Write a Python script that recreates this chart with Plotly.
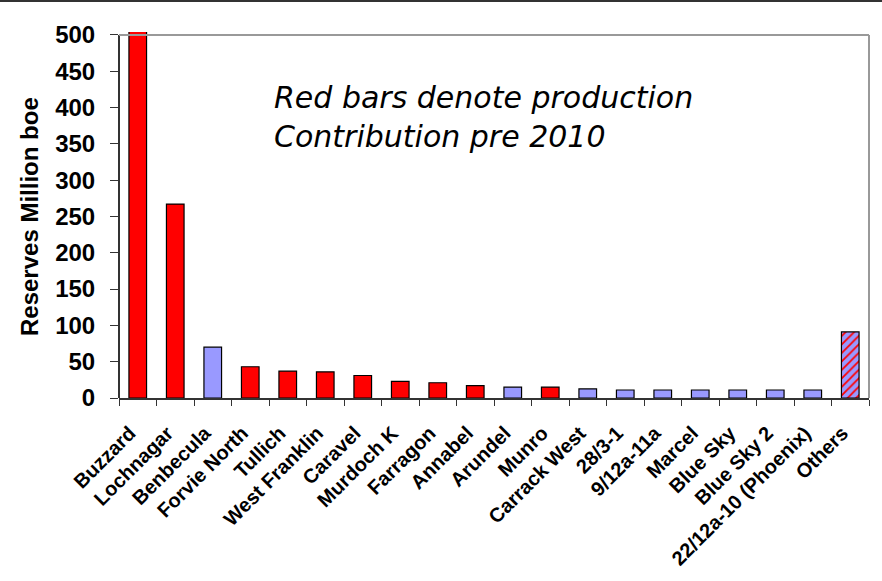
import plotly.graph_objects as go

fields = ["Buzzard", "Lochnagar", "Benbecula", "Forvie North", "Tullich", "West Franklin",
          "Caravel", "Murdoch K", "Farragon", "Annabel", "Arundel", "Munro", "Carrack West",
          "28/3-1", "9/12a-11a", "Marcel", "Blue Sky", "Blue Sky 2", "22/12a-10 (Phoenix)", "Others"]
reserves = [510, 267, 70, 43, 37, 36, 31, 23, 21, 17, 15, 15, 12.5, 11, 11, 11, 11, 11, 11, 91]
# 'prod' = production contribution pre 2010, 'new' = no pre-2010 production, 'mixed' = others
status = ["prod", "prod", "new", "prod", "prod", "prod", "prod", "prod", "prod", "prod",
          "new", "prod", "new", "new", "new", "new", "new", "new", "new", "mixed"]
y_ticks = [0, 50, 100, 150, 200, 250, 300, 350, 400, 450, 500]

RED = "#FF0000"
LAV = "#9999FF"

solid_x = [f for f, s in zip(fields, status) if s != "mixed"]
solid_y = [v for v, s in zip(reserves, status) if s != "mixed"]
solid_c = [RED if s == "prod" else LAV for s in status if s != "mixed"]
mixed_x = [f for f, s in zip(fields, status) if s == "mixed"]
mixed_y = [v for v, s in zip(reserves, status) if s == "mixed"]

fig = go.Figure()
fig.add_trace(go.Bar(
    x=solid_x, y=solid_y, width=0.47,
    marker=dict(color=solid_c, line=dict(color="black", width=1.2)),
))
fig.add_trace(go.Bar(
    x=mixed_x, y=mixed_y, width=0.47,
    marker=dict(color=LAV, line=dict(color="black", width=1.2),
                pattern=dict(shape="/", fgcolor=RED, bgcolor=LAV, size=6,
                             solidity=0.3, fillmode="replace")),
))

fig.update_layout(
    width=882, height=581,
    margin=dict(l=119, r=13, t=32, b=183),
    paper_bgcolor="white", plot_bgcolor="white",
    showlegend=False, barmode="overlay",
    font=dict(family="Liberation Sans, Arial", color="black"),
)
fig.update_xaxes(
    type="category", categoryorder="array", categoryarray=fields,
    tickvals=fields, ticktext=[f + "\u00a0\u00a0" for f in fields],
    showline=True, linecolor="#333", linewidth=1.5,
    ticks="outside", tickson="boundaries", ticklen=6, tickcolor="#333",
    tickangle=-45, tickfont=dict(size=20, family="Liberation Sans, Arial", weight="bold"),
    ticklabelstandoff=6, showgrid=False,
)
fig.update_yaxes(
    range=[0, 504], tickvals=y_ticks, ticks="outside", ticklen=8, tickcolor="#333",
    tickfont=dict(size=24, family="Liberation Sans, Arial", weight="bold"),
    ticklabelstandoff=10, showgrid=False, showline=False, zeroline=False,
)
# axis frame lines
fig.add_shape(type="line", xref="paper", yref="y", x0=0, x1=0, y0=0, y1=500,
              line=dict(color="#333", width=2))
fig.add_shape(type="line", xref="paper", yref="y", x0=0, x1=1, y0=500, y1=500,
              line=dict(color="#999", width=2))
fig.add_shape(type="line", xref="paper", yref="y", x0=1, x1=1, y0=0, y1=500,
              line=dict(color="#999", width=2))
# top border of image
fig.add_shape(type="line", xref="paper", yref="paper", x0=-119/750, x1=763/750,
              y0=(398 - 1) / 366, y1=(398 - 1) / 366, line=dict(color="#333", width=2))

fig.add_annotation(
    xref="paper", yref="paper", x=-0.12, y=0.4945, text="<b>Reserves Million boe</b>",
    textangle=-90, showarrow=False, font=dict(size=24, family="Liberation Sans, Arial"),
    xanchor="center", yanchor="middle",
)
fig.add_annotation(
    xref="paper", yref="paper", x=(272 - 119) / 750, y=(398 - 78) / 366,
    text="<i>Red bars denote production<br>Contribution pre 2010</i>",
    showarrow=False, align="left", xanchor="left", yanchor="top",
    font=dict(size=30, family="DejaVu Sans"),
)

fig.write_html("out.html", post_script="document.body.style.margin='0';",
               config={"displayModeBar": False})
